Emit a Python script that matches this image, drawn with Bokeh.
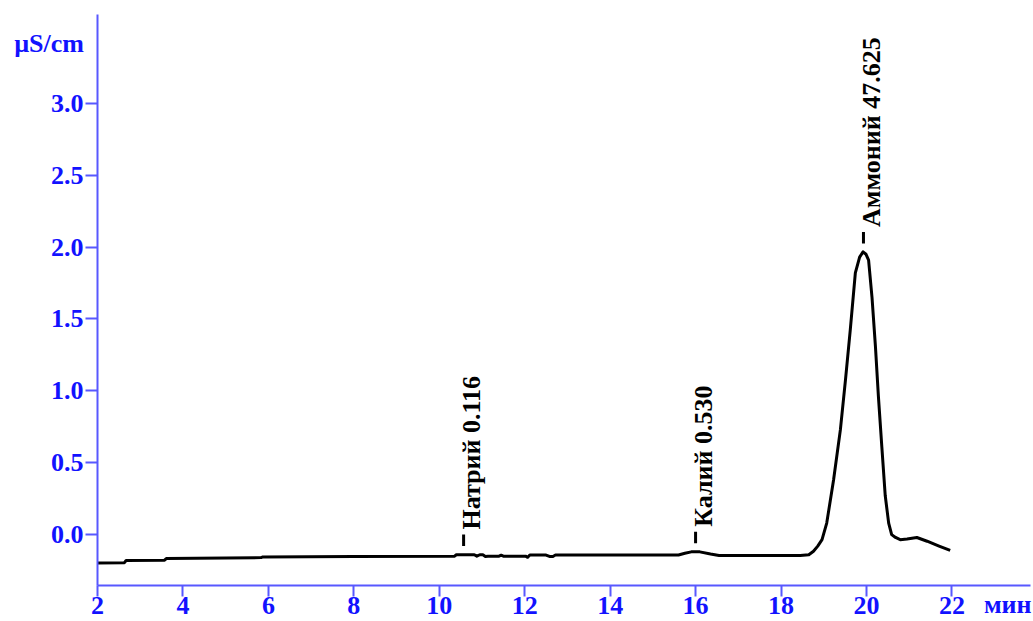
import numpy as np
from bokeh.plotting import figure
from bokeh.models import FixedTicker, Range1d, ColumnDataSource
from bokeh.core.properties import value
from bokeh.embed import file_html
from bokeh.resources import INLINE

# --- data ---
time_min = [2.0, 2.63, 2.67, 3.57, 3.61, 5.83, 5.87, 8.0, 10.36, 10.40, 10.82, 10.88,
            10.95, 11.02, 11.08, 11.14, 11.40, 11.45, 11.50, 11.56, 12.02, 12.07, 12.12,
            12.50, 12.58, 12.66, 12.72, 14.0, 15.60, 15.75, 15.90, 16.10, 16.35, 16.55,
            17.5, 18.45, 18.65, 18.76, 18.86, 18.96, 19.07, 19.23, 19.39, 19.51, 19.62,
            19.74, 19.84, 19.92, 19.99, 20.05, 20.13, 20.21, 20.28, 20.36, 20.44, 20.52,
            20.59, 20.68, 20.79, 20.95, 21.18, 21.42, 21.70, 21.96]
signal_uScm = [-0.197, -0.195, -0.180, -0.178, -0.167, -0.160, -0.155, -0.152, -0.150, -0.140,
               -0.140, -0.150, -0.140, -0.140, -0.152, -0.150, -0.150, -0.143, -0.150, -0.150,
               -0.150, -0.158, -0.142, -0.142, -0.152, -0.152, -0.142, -0.142, -0.142, -0.130,
               -0.120, -0.120, -0.135, -0.145, -0.145, -0.145, -0.140, -0.116, -0.080, -0.035,
               0.080, 0.380, 0.730, 1.080, 1.420, 1.820, 1.930, 1.967, 1.950, 1.910,
               1.650, 1.310, 0.960, 0.610, 0.270, 0.080, 0.000, -0.020, -0.035, -0.030,
               -0.020, -0.046, -0.080, -0.110]

peak_names = ["Натрий", "Калий", "Аммоний"]
peak_areas = ["0.116", "0.530", "47.625"]
peak_times = [10.57, 16.00, 19.93]

x_ticks = [2, 4, 6, 8, 10, 12, 14, 16, 18, 20, 22]
y_ticks = [0.0, 0.5, 1.0, 1.5, 2.0, 2.5, 3.0]
y_unit = "µS/cm"
x_unit = "мин"

# --- styling ---
FONT = "Liberation Serif"
TXT_BLUE = "#1212ff"
AX_BLUE = "#5858ff"
FS = "26px"
W, H = 1033, 621

p = figure(width=W, height=H, output_backend="svg", toolbar_location=None,
           x_range=Range1d(2.0, 23.84), y_range=Range1d(-0.354, 3.618),
           min_border_left=97, min_border_right=3, min_border_top=14,
           min_border_bottom=35)
p.outline_line_color = None
p.grid.visible = False
p.background_fill_color = "white"
p.border_fill_color = "white"

for ax in (p.xaxis[0], p.yaxis[0]):
    ax.axis_line_color = AX_BLUE
    ax.axis_line_width = 2
    ax.major_tick_line_color = AX_BLUE
    ax.major_tick_line_width = 2
    ax.minor_tick_line_color = None
    ax.major_label_text_color = TXT_BLUE
    ax.major_label_text_font = FONT
    ax.major_label_text_font_style = "bold"
    ax.major_label_text_font_size = FS
    ax.axis_label_text_color = TXT_BLUE
    ax.axis_label_text_font = FONT
    ax.axis_label_text_font_style = "bold"
    ax.axis_label_text_font_size = FS

p.xaxis.ticker = FixedTicker(ticks=x_ticks)
p.yaxis.ticker = FixedTicker(ticks=y_ticks)
p.xaxis.major_label_overrides = {t: str(t) for t in x_ticks}
p.yaxis.major_label_overrides = {t: f"{t:.1f}" for t in y_ticks}
p.xaxis.major_tick_in = 0
p.xaxis.major_tick_out = 11
p.yaxis.major_tick_in = 0
p.yaxis.major_tick_out = 12
p.xaxis.major_label_standoff = 0
p.yaxis.major_label_standoff = 2

# unit labels carried by the axes themselves
# (the x label is centred on the axis end, so pad it to end at the axis end)
p.xaxis.axis_label = x_unit + "\u00a0" * 7
p.xaxis.axis_label_align = "end"
p.xaxis.axis_label_standoff = -27
p.yaxis.axis_label = "\n\n" + y_unit
p.yaxis.axis_label_orientation = "horizontal"
p.yaxis.axis_label_align = "end"
p.yaxis.axis_label_text_baseline = "middle"
p.yaxis.axis_label_text_line_height = 1.0
p.yaxis.axis_label_standoff = -36

p.line(time_min, signal_uScm, line_color="black", line_width=3, line_join="round")

# peak markers and labels
peak_y = np.interp(peak_times, time_min, signal_uScm)
mark_bottom = peak_y + 0.06
mark_top = mark_bottom + 0.08
p.segment(x0=peak_times, y0=mark_bottom, x1=peak_times, y1=mark_top,
          line_color="black", line_width=3)
src = ColumnDataSource(dict(
    x=[t + 0.19 for t in peak_times],
    y=list(mark_top + 0.035),
    text=[f"{n} {a}" for n, a in zip(peak_names, peak_areas)],
))
p.text(x="x", y="y", text="text", source=src, angle=np.pi / 2,
       text_align="left", text_baseline="middle", text_color="black",
       text_font=value(FONT), text_font_style="bold", text_font_size=FS)

open("out.html", "w").write(file_html(p, INLINE))
